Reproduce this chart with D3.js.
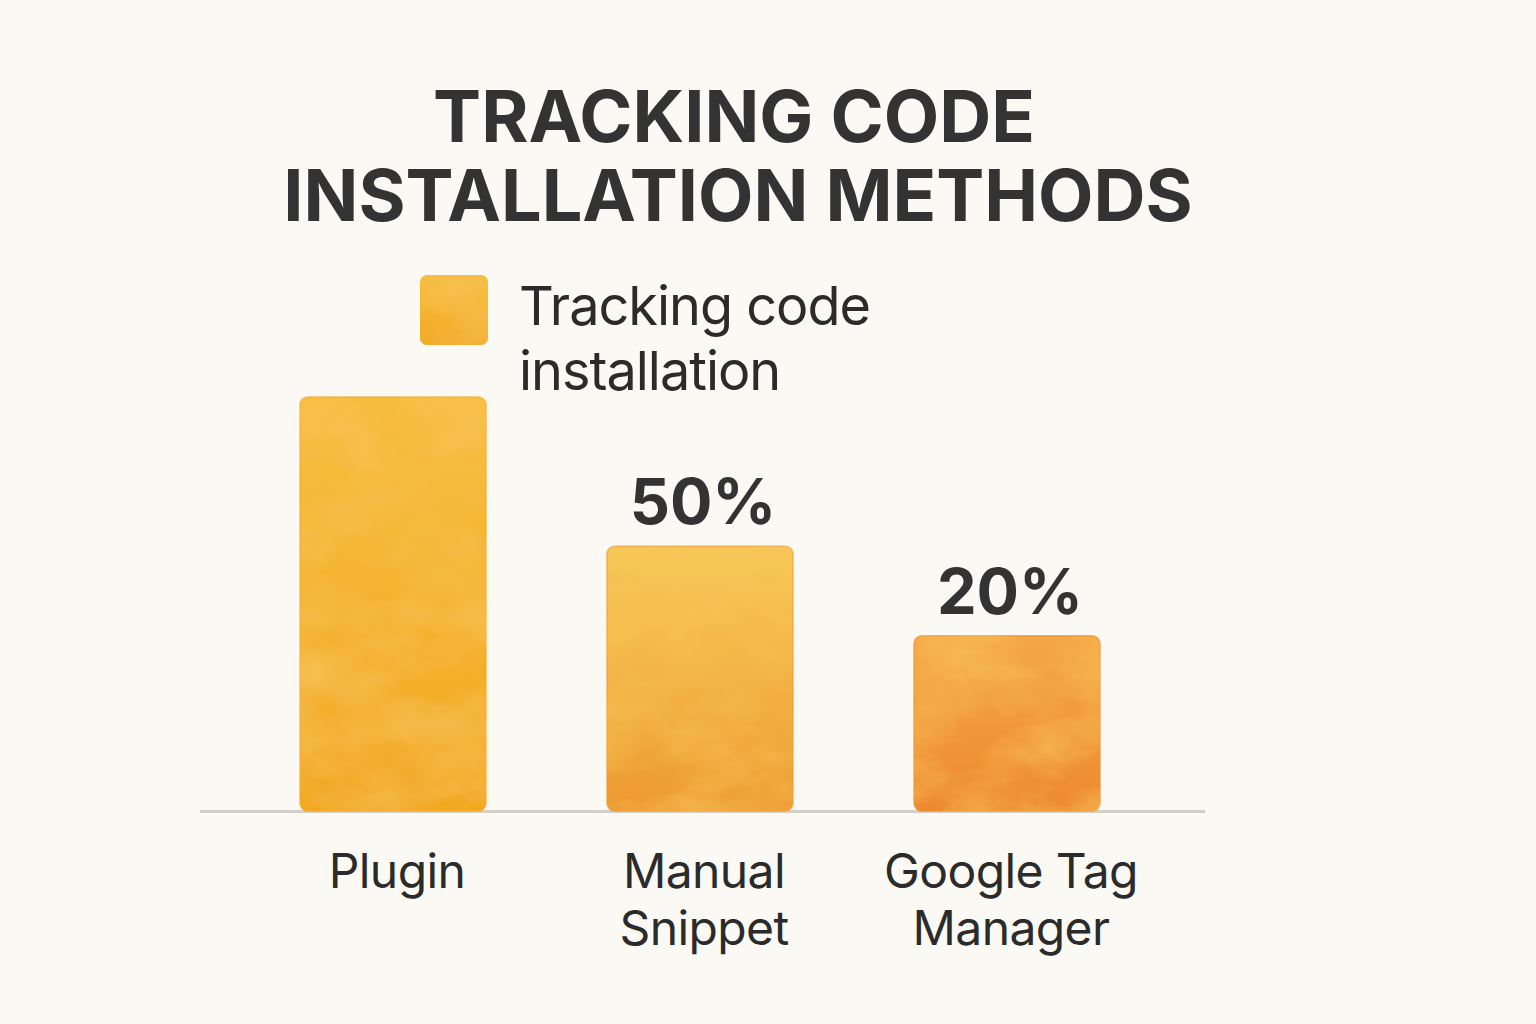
<!DOCTYPE html>
<html>
<head>
<meta charset="utf-8">
<script src="https://cdn.jsdelivr.net/npm/d3@7"></script>
<style>
  html, body { margin: 0; padding: 0; background: #fbf9f4; }
  svg { display: block; }
</style>
</head>
<body>
<svg id="chart" width="1536" height="1024"></svg>
<script>
// ---- data ----
const titleLines = ["TRACKING CODE", "INSTALLATION METHODS"];
const legendLines = ["Tracking code", "installation"];
const categories = ["Plugin", "Manual Snippet", "Google Tag Manager"];
const categoryLines = [["Plugin"], ["Manual", "Snippet"], ["Google Tag", "Manager"]];
const values = [100, 50, 20];
const valueLabels = ["", "50%", "20%"];
const yDomain = [-38.7, 100];
const barTopColors = ["#f7bd3e", "#f8c85a", "#f5a746"];
const barBottomColors = ["#f2a823", "#ee9a30", "#ee892f"];

const svg = d3.select("#chart");
const W = 1536, H = 1024;
svg.append("rect").attr("width", W).attr("height", H).attr("fill", "#fbf9f4");

const defs = svg.append("defs");
const filt = defs.append("filter").attr("id", "wc").attr("x", "-5%").attr("y", "-5%").attr("width", "110%").attr("height", "110%");
filt.append("feTurbulence").attr("type", "fractalNoise").attr("baseFrequency", "0.012 0.02").attr("numOctaves", 4).attr("seed", 7).attr("result", "noise");
filt.append("feColorMatrix").attr("in", "noise").attr("type", "matrix")
  .attr("values", "0 0 0 0 0.93  0 0 0 0 0.55  0 0 0 0 0.1  1.3 0 0 0 -0.45").attr("result", "tint");
filt.append("feComposite").attr("in", "tint").attr("in2", "SourceGraphic").attr("operator", "in").attr("result", "tintIn");
filt.append("feMerge").call(m => { m.append("feMergeNode").attr("in", "SourceGraphic"); m.append("feMergeNode").attr("in", "tintIn"); });

categories.forEach((c, i) => {
  const g = defs.append("linearGradient").attr("id", "grad" + i).attr("x1", 0).attr("y1", 0).attr("x2", 0).attr("y2", 1);
  g.append("stop").attr("offset", "0%").attr("stop-color", barTopColors[i]);
  g.append("stop").attr("offset", "40%").attr("stop-color", d3.interpolateRgb(barTopColors[i], barBottomColors[i])(0.4));
  g.append("stop").attr("offset", "100%").attr("stop-color", barBottomColors[i]);
});

// ---- title ----
const title = svg.append("text")
  .attr("text-anchor", "middle")
  .attr("font-family", "Inter, 'DejaVu Sans', sans-serif")
  .attr("font-weight", 700).attr("font-size", 72)
  .attr("fill", "#333333");
title.selectAll("tspan").data(titleLines).join("tspan")
  .attr("x", (d, i) => i === 0 ? 734 : 738).attr("y", (d, i) => 142 + i * 79)
  .text(d => d);

// ---- scales ----
const x = d3.scaleBand().domain(categories).range([300, 1100]).paddingInner(0.394).paddingOuter(0);
const y = d3.scaleLinear().domain(yDomain).range([811, 397]);

// ---- legend ----
const lg = svg.append("g");
lg.append("rect").attr("x", 420).attr("y", 275).attr("width", 68).attr("height", 70).attr("rx", 7)
  .attr("fill", "url(#grad0)").attr("filter", "url(#wc)");
const lt = lg.append("text")
  .attr("font-family", "Inter, sans-serif").attr("font-size", 54).attr("letter-spacing", -1)
  .attr("fill", "#2b2b2b");
lt.selectAll("tspan").data(legendLines).join("tspan")
  .attr("x", 519).attr("y", (d, i) => 325 + i * 65)
  .text(d => d);

// ---- baseline ----
svg.append("line").attr("x1", 200).attr("x2", 1205).attr("y1", 811.5).attr("y2", 811.5)
  .attr("stroke", "#d3cfc8").attr("stroke-width", 3);

// ---- bars ----
svg.append("g").selectAll("rect").data(categories).join("rect")
  .attr("x", d => x(d)).attr("width", x.bandwidth())
  .attr("y", (d, i) => y(values[i])).attr("height", (d, i) => y(yDomain[0]) - y(values[i]))
  .attr("rx", 8)
  .attr("fill", (d, i) => `url(#grad${i})`)
  .attr("stroke", (d, i) => barBottomColors[i]).attr("stroke-width", 1.5).attr("stroke-opacity", 0.7)
  .attr("filter", "url(#wc)");

// ---- value labels ----
svg.append("g").selectAll("text").data(categories).join("text")
  .attr("x", d => x(d) + x.bandwidth() / 2 + 3)
  .attr("y", (d, i) => y(values[i]) - 22)
  .attr("text-anchor", "middle")
  .attr("font-family", "Inter, sans-serif").attr("font-weight", 700).attr("font-size", 63)
  .attr("fill", "#333333")
  .text((d, i) => valueLabels[i]);

// ---- category labels ----
const cl = svg.append("g").selectAll("text").data(categories).join("text")
  .attr("text-anchor", "middle")
  .attr("font-family", "Inter, sans-serif").attr("font-size", 48).attr("letter-spacing", -0.6)
  .attr("fill", "#2b2b2b");
cl.each(function(d, i) {
  d3.select(this).selectAll("tspan").data(categoryLines[i]).join("tspan")
    .attr("x", x(d) + x.bandwidth() / 2 + 4)
    .attr("y", (t, j) => 888 + j * 57)
    .text(t => t);
});
</script>
</body>
</html>
